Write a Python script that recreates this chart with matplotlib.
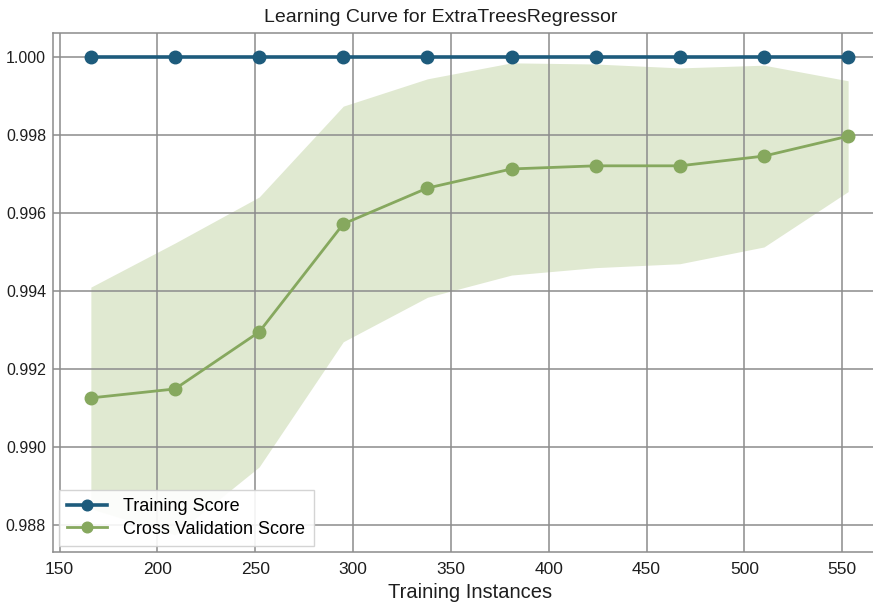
import matplotlib
matplotlib.use("Agg")
import matplotlib.pyplot as plt
from matplotlib.ticker import FormatStrFormatter, MultipleLocator

plt.rcParams['font.family'] = ['Liberation Sans', 'DejaVu Sans']

# Learning curve results
train_sizes = [166, 209, 252, 295, 338, 381, 424, 467, 510, 553]
train_mean = [1.000, 1.000, 1.000, 1.000, 1.000, 1.000, 1.000, 1.000, 1.000, 1.000]
train_std = [0.0, 0.0, 0.0, 0.0, 0.0, 0.0, 0.0, 0.0, 0.0, 0.0]
cv_mean = [0.99126, 0.99149, 0.99295, 0.99572, 0.99664,
           0.99713, 0.99721, 0.99721, 0.99746, 0.99797]
cv_std = [0.00284, 0.00374, 0.00346, 0.00302, 0.00280,
          0.00272, 0.00261, 0.00251, 0.00233, 0.00142]
x_ticks = [150, 200, 250, 300, 350, 400, 450, 500, 550]

train_color = "#1d5b7c"
cv_color = "#86a85e"
band_color = "#dde7cc"
text_color = "#1e1e1e"

fig = plt.figure(figsize=(8.73, 6.02), dpi=100)
ax_left, ax_right, ax_top, ax_bottom = 53, 886, 33, 552
ax = fig.add_axes([ax_left / 873, 1 - ax_bottom / 602,
                   (ax_right - ax_left) / 873, (ax_bottom - ax_top) / 602])

tr_lo = [m - s for m, s in zip(train_mean, train_std)]
tr_hi = [m + s for m, s in zip(train_mean, train_std)]
cv_lo = [m - s for m, s in zip(cv_mean, cv_std)]
cv_hi = [m + s for m, s in zip(cv_mean, cv_std)]

ax.fill_between(train_sizes, tr_lo, tr_hi, color=train_color, alpha=0.25, lw=0, zorder=1)
ax.fill_between(train_sizes, cv_lo, cv_hi, color=band_color, alpha=0.9, lw=0, zorder=1)

ax.plot(train_sizes, train_mean, "o-", color=train_color, lw=2.6, ms=9,
        label="Training Score", zorder=3)
ax.plot(train_sizes, cv_mean, "o-", color=cv_color, lw=2.0, ms=9,
        label="Cross Validation Score", zorder=3)

ax.set_xlim(146.65, 572.35)
ax.set_ylim(0.98731, 1.000615)
ax.set_xticks(x_ticks)
ax.yaxis.set_major_locator(MultipleLocator(0.002))
ax.yaxis.set_major_formatter(FormatStrFormatter("%.3f"))

ax.grid(True, color="#8c8c8c", lw=1.1, zorder=2)
ax.set_axisbelow(False)
for sp in ax.spines.values():
    sp.set_color("#8c8c8c")
    sp.set_linewidth(1.1)

ax.tick_params(axis="both", length=0, colors=text_color)
ax.tick_params(axis="x", labelsize=12.5, pad=7)
ax.tick_params(axis="y", labelsize=11.5, pad=5)

# title and x label centred over the visible part of the plot
ax.set_title("Learning Curve for ExtraTreesRegressor", fontsize=14, color=text_color,
             pad=8, x=(441 - ax_left) / (ax_right - ax_left))
ax.set_xlabel("Training Instances", fontsize=14.5, color=text_color, labelpad=2)
ax.xaxis.set_label_coords((470 - ax_left) / (ax_right - ax_left), -0.06)

leg = ax.legend(loc="lower left", fontsize=13, frameon=True, framealpha=0.9,
                edgecolor="#d0d0d0", fancybox=False, borderaxespad=0.35,
                handlelength=2.2, labelspacing=0.3, markerscale=0.85,
                borderpad=0.45, handletextpad=0.9)
leg.set_zorder(5)

fig.savefig("out.png", dpi=100, facecolor="white")
